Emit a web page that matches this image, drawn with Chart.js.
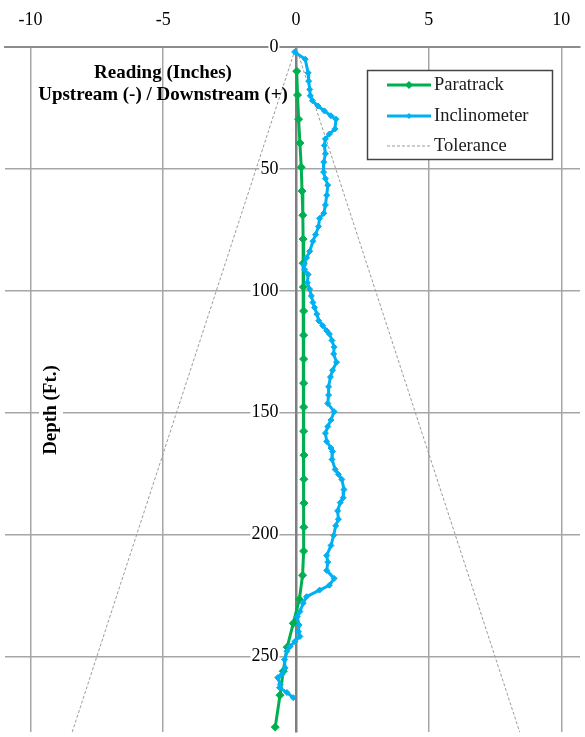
<!DOCTYPE html>
<html><head><meta charset="utf-8">
<script src="https://cdn.jsdelivr.net/npm/chart.js@4/dist/chart.umd.min.js"></script>
<style>html,body{margin:0;padding:0;background:#fff;overflow:hidden}canvas{display:block}</style>
</head><body>
<canvas id="c" width="585" height="737"></canvas>
<script>
// ---- data ----
const xTicks = [-10, -5, 0, 5, 10];
const yTicks = [0, 50, 100, 150, 200, 250];
const seriesNames = ['Paratrack', 'Inclinometer', 'Tolerance'];
const titleLines = ['Reading (Inches)', 'Upstream (-) / Downstream (+)'];
const yTitle = 'Depth (Ft.)';

const paraDepth = [9.9, 19.7, 29.6, 39.4, 49.3, 59.1, 69, 78.8, 88.7, 98.5, 108.3, 118.2, 128, 137.9, 147.7,
  157.6, 167.4, 177.3, 187.1, 197, 206.8, 216.7, 226.5, 236.4, 246.2, 256.1, 265.9, 279];
const paraVal = [0.03, 0.06, 0.1, 0.15, 0.2, 0.23, 0.26, 0.27, 0.27, 0.28, 0.29, 0.29, 0.29, 0.29, 0.29,
  0.29, 0.3, 0.3, 0.3, 0.3, 0.29, 0.25, 0.13, -0.1, -0.33, -0.48, -0.6, -0.78];

const incDepth = [2, 5, 10.6, 14, 17.4, 20, 22, 24.2, 26.2, 28.2, 29.6, 33.6, 35.7, 37.7, 40.4, 43.8, 47.2,
  51.3, 54, 56.7, 60.8, 64.8, 68.2, 70.3, 73.6, 77, 79.7, 83.8, 86.5, 89.3, 91.3, 93.3, 96.7, 99.4, 102.1,
  104.8, 106.9, 109.6, 112.3, 114.3, 116.4, 117.7, 120.4, 123.1, 125.9, 129.3, 132.6, 135.4, 139.4, 142.8,
  146.2, 149.6, 153, 155.7, 158.4, 161.8, 164.5, 165.9, 169.2, 173.3, 175.3, 177.4, 181.5, 184.9, 186.9,
  190.3, 193.7, 196.4, 200.4, 204.5, 208.6, 211.3, 214.7, 218, 220.8, 222.8, 225.5, 228.2, 231.6, 233.7,
  237.1, 239.8, 241.8, 243.9, 245.9, 247.9, 251.3, 254.7, 257.4, 258.7, 261.5, 262.8, 264.8, 266.9];
const incVal = [-0.05, 0.35, 0.46, 0.48, 0.52, 0.54, 0.62, 0.83, 1.07, 1.32, 1.51, 1.47, 1.26, 1.11, 1.07, 1.11, 1.05,
  1.04, 1.11, 1.2, 1.16, 1.11, 1.05, 0.89, 0.85, 0.74, 0.64, 0.52, 0.4, 0.3, 0.33, 0.46, 0.43, 0.52, 0.58,
  0.64, 0.7, 0.79, 0.86, 1.01, 1.16, 1.26, 1.36, 1.44, 1.42, 1.53, 1.38, 1.3, 1.23, 1.23,
  1.2, 1.44, 1.32, 1.2, 1.11, 1.16, 1.32, 1.38, 1.36, 1.48, 1.6, 1.73, 1.81, 1.78, 1.67,
  1.57, 1.6, 1.5, 1.42, 1.32, 1.16, 1.2, 1.16, 1.44, 1.26, 0.89, 0.4, 0.27, 0.15, 0.05,
  0.12, 0.09, 0.15, -0.04, -0.22, -0.34, -0.43, -0.41, -0.53, -0.69, -0.59, -0.62, -0.34, -0.1];

const tolDepth = [281, 0, 281];
const tolVal = [-8.43, 0, 8.43];

// ---- styles ----
const GREEN = '#00B050';
const BLUE = '#00B0F0';
const TOLC = '#9a9a9a';
const FONT = '"Liberation Serif", "Times New Roman", serif';
const Y_MIN = 0, Y_MAX = 281;

const toPts = (d, v) => d.map((y, i) => ({ x: v[i], y: y }));

const overlay = {
  id: 'overlay',
  afterDraw(chart) {
    const ctx = chart.ctx;
    ctx.save();
    ctx.font = 'bold 19px ' + FONT;
    ctx.fillStyle = '#000';
    ctx.textAlign = 'center';
    ctx.textBaseline = 'middle';
    ctx.fillText(titleLines[0], 163, 73);
    ctx.fillText(titleLines[1], 163, 95);
    ctx.save();
    ctx.translate(51, 410);
    ctx.rotate(-Math.PI / 2);
    const w = ctx.measureText(yTitle).width;
    ctx.fillStyle = '#fff';
    ctx.fillRect(-w / 2 - 3, -12, w + 6, 24);
    ctx.fillStyle = '#000';
    ctx.fillText(yTitle, 0, 0);
    ctx.restore();

    const L = { x: 367.5, y: 70.5, w: 185, h: 89 };
    ctx.fillStyle = '#fff';
    ctx.fillRect(L.x, L.y, L.w, L.h);
    ctx.strokeStyle = '#444';
    ctx.lineWidth = 1.5;
    ctx.strokeRect(L.x, L.y, L.w, L.h);
    const rows = [85, 116, 146];
    chart.data.datasets.forEach((ds, i) => {
      const y = rows[i];
      ctx.save();
      ctx.strokeStyle = ds.borderColor;
      ctx.lineWidth = ds.borderWidth;
      ctx.setLineDash(ds.borderDash || []);
      ctx.beginPath();
      ctx.moveTo(387, y);
      ctx.lineTo(431, y);
      ctx.stroke();
      ctx.restore();
      if (ds.pointRadius > 0) {
        const r = ds.pointRadius;
        ctx.fillStyle = ds.borderColor;
        ctx.beginPath();
        ctx.moveTo(409, y - r); ctx.lineTo(409 + r, y); ctx.lineTo(409, y + r); ctx.lineTo(409 - r, y);
        ctx.closePath();
        ctx.fill();
      }
      ctx.font = '18.5px ' + FONT;
      ctx.fillStyle = '#1a1a1a';
      ctx.textAlign = 'left';
      ctx.textBaseline = 'middle';
      ctx.fillText(ds.label, 434, y);
    });
    ctx.restore();
  }
};

const zeroPad = s => { s.paddingLeft = 0; s.paddingRight = 0; s.paddingTop = 0; s.paddingBottom = 0; };
const setYTicks = s => { s.ticks = yTicks.map(v => ({ value: v })); };

new Chart(document.getElementById('c'), {
  type: 'line',
  data: {
    datasets: [
      { label: seriesNames[0], data: toPts(paraDepth, paraVal), borderColor: GREEN, backgroundColor: GREEN,
        pointBackgroundColor: GREEN, pointBorderColor: GREEN, borderWidth: 3, pointStyle: 'rectRot',
        pointRadius: 4, pointBorderWidth: 1, order: 1 },
      { label: seriesNames[1], data: toPts(incDepth, incVal), borderColor: BLUE, backgroundColor: BLUE,
        pointBackgroundColor: BLUE, pointBorderColor: BLUE, borderWidth: 3, pointStyle: 'rectRot',
        pointRadius: 3, pointBorderWidth: 1, order: 0 },
      { label: seriesNames[2], data: toPts(tolDepth, tolVal), borderColor: TOLC, backgroundColor: TOLC,
        borderWidth: 1, borderDash: [3, 2], pointRadius: 0, order: 2 }
    ]
  },
  options: {
    responsive: false,
    animation: false,
    devicePixelRatio: 1,
    indexAxis: 'y',
    layout: { padding: 0 },
    plugins: { legend: { display: false }, tooltip: { enabled: false }, title: { display: false } },
    scales: {
      x: {
        type: 'linear', position: 'top', min: -10.963, max: 10.704,
        afterBuildTicks: s => { s.ticks = xTicks.map(v => ({ value: v })); },
        afterFit: s => { s.height = 47; zeroPad(s); },
        grid: { color: '#a6a6a6', lineWidth: 1.5, drawTicks: false },
        border: { color: '#8c8c8c', width: 2 },
        ticks: { font: { family: FONT, size: 18 }, color: '#000', padding: 16, maxRotation: 0 }
      },
      y: {
        type: 'linear', position: { x: 0 }, reverse: true, min: Y_MIN, max: Y_MAX,
        afterBuildTicks: setYTicks,
        afterFit: zeroPad,
        grid: { color: '#a6a6a6', lineWidth: 1.5, drawTicks: false },
        border: { color: '#7f7f7f', width: 2.5 },
        ticks: { display: false }
      },
      yLabels: {
        type: 'linear', axis: 'y', position: { x: -0.66 }, reverse: true, min: Y_MIN, max: Y_MAX,
        afterBuildTicks: setYTicks,
        afterFit: zeroPad,
        grid: { display: false, drawTicks: false },
        border: { display: false },
        ticks: { font: { family: FONT, size: 18 }, color: '#000', padding: 0,
          showLabelBackdrop: true, backdropColor: '#fff', backdropPadding: { x: 1, y: 0 } }
      }
    }
  },
  plugins: [overlay]
});
</script>
</body></html>
